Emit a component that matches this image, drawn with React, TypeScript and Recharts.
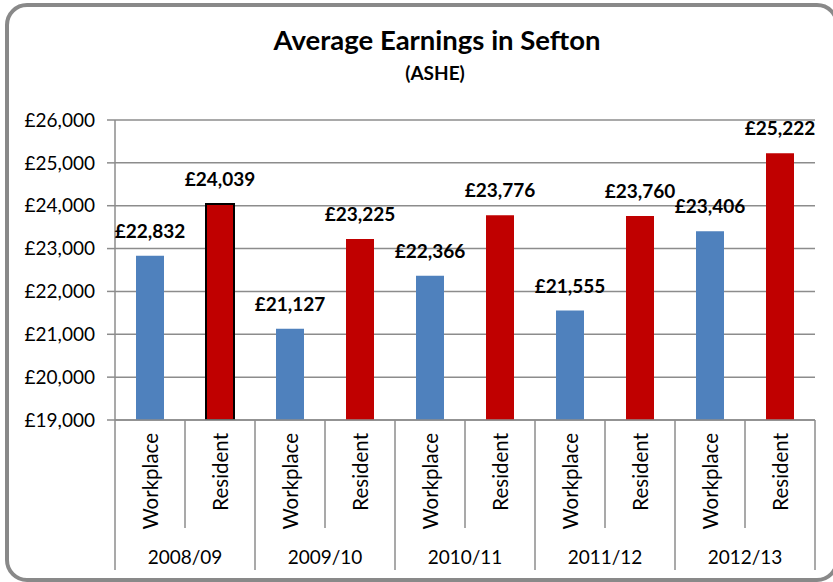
import { BarChart, Bar, XAxis, YAxis, CartesianGrid, Cell, LabelList } from 'recharts'

const periods = ['2008/09', '2009/10', '2010/11', '2011/12', '2012/13']
const measures = ['Workplace', 'Resident']
const workplace = [22832, 21127, 22366, 21555, 23406]
const resident = [24039, 23225, 23776, 23760, 25222]
const yTicks = [19000, 20000, 21000, 22000, 23000, 24000, 25000, 26000]

const rows = periods.flatMap((period, i) => [
  { key: `${period} ${measures[0]}`, period, measure: measures[0], value: workplace[i] },
  { key: `${period} ${measures[1]}`, period, measure: measures[1], value: resident[i] }
])

const W = 833
const H = 582
const PLOT_LEFT = 115
const PLOT_RIGHT = 815
const PLOT_TOP = 120
const PLOT_BOTTOM = 420
const BAND = (PLOT_RIGHT - PLOT_LEFT) / rows.length
const GRID = '#8c8c8c'
const FONT = 'Lato, "Liberation Sans", sans-serif'
const COLORS: Record<string, string> = { Workplace: '#4F81BD', Resident: '#C00000' }

const money = (v: number) => '£' + Number(v).toLocaleString('en-GB')

function CategoryTick(props: any) {
  const { x, payload } = props
  const i = rows.findIndex(r => r.key === payload.value)
  if (i < 0) return null
  const row = rows[i]
  const left = x - BAND / 2
  return (
    <g>
      <line x1={left} x2={left} y1={PLOT_BOTTOM} y2={i % 2 === 0 ? 570 : 528} stroke={GRID} strokeWidth={1.5} />
      {i === rows.length - 1 && (
        <line x1={x + BAND / 2} x2={x + BAND / 2} y1={PLOT_BOTTOM} y2={570} stroke={GRID} strokeWidth={1.5} />
      )}
      <text
        x={x}
        y={433}
        transform={`rotate(-90 ${x} 433)`}
        textAnchor="end"
        dominantBaseline="central"
        fontFamily={FONT}
        fontSize={20.5}
        fill="#000"
      >
        {row.measure}
      </text>
      {i % 2 === 1 && (
        <text x={left} y={564} textAnchor="middle" fontFamily={FONT} fontSize={19} fill="#000">
          {row.period}
        </text>
      )}
    </g>
  )
}

const ValueLabel = (props: any) => {
  const { x, y, width, value } = props
  return (
    <text x={x + width / 2} y={y - 18} textAnchor="middle" fontFamily={FONT} fontWeight="bold" fontSize={19} fill="#000">
      {money(value)}
    </text>
  )
}

export default function App() {
  return (
    <div style={{ position: 'absolute', left: 0, top: 0, width: W, height: H, overflow: 'hidden', background: '#fff' }}>
      <div
        style={{
          position: 'absolute',
          left: 5,
          top: 3,
          width: 834,
          height: 579,
          boxSizing: 'border-box',
          border: `4px solid #898989`,
          borderRadius: 22
        }}
      />
      <div style={{ position: 'absolute', left: 0, top: 0 }}>
        <BarChart
          width={W}
          height={H}
          data={rows}
          margin={{ top: PLOT_TOP, right: W - PLOT_RIGHT, bottom: 0, left: 0 }}
        >
          <CartesianGrid vertical={false} stroke={GRID} strokeWidth={1.5} />
          <XAxis
            dataKey="key"
            interval={0}
            height={H - PLOT_BOTTOM}
            tickLine={false}
            axisLine={{ stroke: GRID, strokeWidth: 1.5 }}
            tick={<CategoryTick />}
          />
          <YAxis
            width={PLOT_LEFT}
            domain={[19000, 26000]}
            ticks={yTicks}
            allowDataOverflow
            tickFormatter={money}
            tickSize={8}
            tickMargin={12}
            axisLine={{ stroke: GRID, strokeWidth: 1.5 }}
            tickLine={{ stroke: GRID, strokeWidth: 1.5 }}
            tick={{ fill: '#000', fontFamily: FONT, fontSize: 19 }}
          />
          <Bar dataKey="value" barSize={28} isAnimationActive={false}>
            {rows.map((r, i) => (
              <Cell
                key={r.key}
                fill={COLORS[r.measure]}
                stroke={i === 1 ? '#000' : 'none'}
                strokeWidth={i === 1 ? 2 : 0}
              />
            ))}
            <LabelList dataKey="value" content={<ValueLabel />} />
          </Bar>
        </BarChart>
      </div>
      <svg width={W} height={H} style={{ position: 'absolute', left: 0, top: 0, pointerEvents: 'none' }}>
        <text x={437} y={50} textAnchor="middle" fontFamily={FONT} fontWeight="bold" fontSize={27.5} fill="#000">
          Average Earnings in Sefton
        </text>
        <text x={435} y={80} textAnchor="middle" fontFamily={FONT} fontWeight="bold" fontSize={19} fill="#000">
          (ASHE)
        </text>
      </svg>
    </div>
  )
}
